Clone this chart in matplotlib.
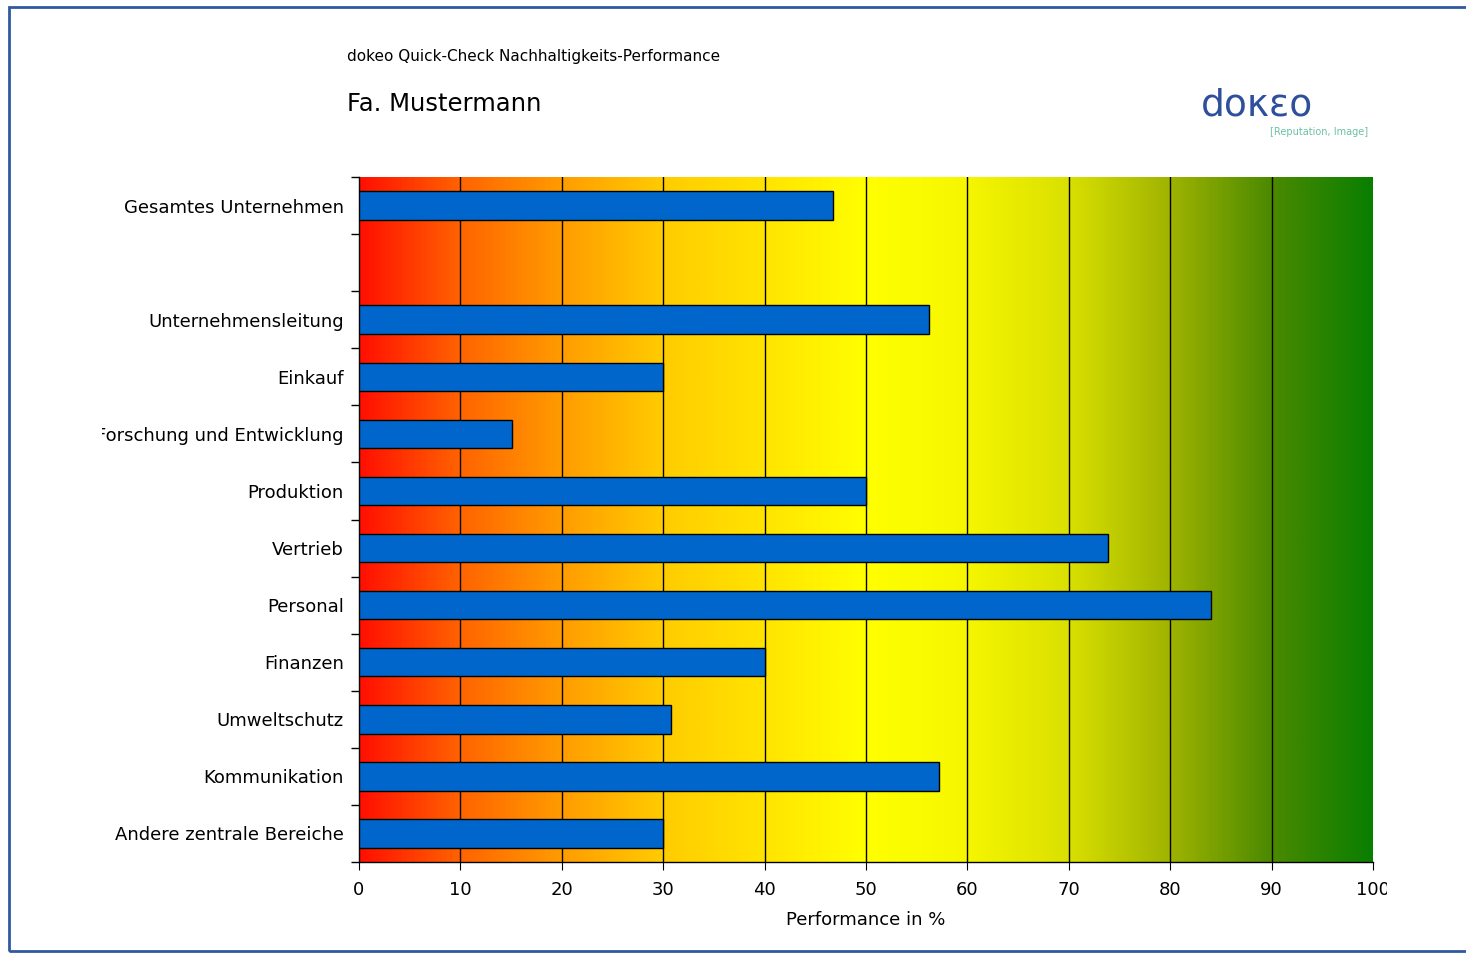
import numpy as np
import matplotlib
matplotlib.use("Agg")
import matplotlib.pyplot as plt
from matplotlib.colors import LinearSegmentedColormap
from matplotlib.patches import Rectangle
from matplotlib.transforms import Bbox

# Daten
kategorien = [
    "Gesamtes Unternehmen",
    "",
    "Unternehmensleitung",
    "Einkauf",
    "Forschung und Entwicklung",
    "Produktion",
    "Vertrieb",
    "Personal",
    "Finanzen",
    "Umweltschutz",
    "Kommunikation",
    "Andere zentrale Bereiche",
]
werte = [46.7, None, 56.2, 30.0, 15.1, 50.0, 73.9, 84.0, 40.0, 30.8, 57.2, 30.0]
x_ticks = [0, 10, 20, 30, 40, 50, 60, 70, 80, 90, 100]

verlauf_pos = [0.0, 0.1, 0.2, 0.3, 0.4, 0.5, 0.6, 0.7, 0.8, 0.9, 1.0]
verlauf_farben = ["#ff1000", "#ff6400", "#ff9c00", "#ffcc00", "#ffe400", "#ffff00",
                  "#f6f600", "#dae000", "#a0b400", "#4c8a00", "#0a7e00"]

W, H = 1466, 955
fig = plt.figure(figsize=(W / 100, H / 100), dpi=100)

# Rahmen
fig.patches.append(Rectangle((9 / W, 1 - 951 / H), 1.1, (951 - 7) / H,
                             transform=fig.transFigure, fill=False,
                             edgecolor="#2f5b9e", linewidth=2))

ax = fig.add_axes([359 / W, 1 - 862 / H, (1373 - 359) / W, (862 - 177) / H])

n = len(kategorien)
cmap = LinearSegmentedColormap.from_list("perf", list(zip(verlauf_pos, verlauf_farben)))
grad = np.linspace(0, 1, 512).reshape(1, -1)
ax.imshow(grad, cmap=cmap, extent=[0, 100, n, 0], aspect="auto", zorder=0,
          interpolation="bilinear")

for x in x_ticks[1:-1]:
    ax.axvline(x, color="black", linewidth=1, zorder=1)

for i, v in enumerate(werte):
    if v is None:
        continue
    ax.barh(i + 0.5, v, height=0.5, color="#0066cc", edgecolor="black",
            linewidth=1, zorder=3)

ax.set_xlim(0, 100)
ax.set_ylim(n, 0)

ax.set_yticks(range(n + 1))
ax.set_yticklabels([])
ax.set_yticks([i + 0.5 for i in range(n)], minor=True)
ax.set_yticklabels(kategorien, minor=True, fontsize=13)
ax.tick_params(axis="y", which="minor", length=0, pad=11)
ax.tick_params(axis="y", which="major", length=6, width=1)
ax.set_xticks(x_ticks)
ax.tick_params(axis="x", length=6, labelsize=13, pad=8)

for s in ["top", "right"]:
    ax.spines[s].set_visible(False)
ax.spines["left"].set_linewidth(1)
ax.spines["bottom"].set_linewidth(1)

ax.set_xlabel("Performance in %", fontsize=13, labelpad=8)

fig.text(347 / W, 1 - 56 / H, "dokeo Quick-Check Nachhaltigkeits-Performance",
         fontsize=11, va="center", ha="left")
fig.text(347 / W, 1 - 104 / H, "Fa. Mustermann", fontsize=17.5, va="center", ha="left")

# Logo
fig.text(1257 / W, 1 - 106 / H, "doκεο", fontsize=27, color="#2d4f9c",
         va="center", ha="center")
fig.text(1368 / W, 1 - 132 / H, "[Reputation, Image]", fontsize=7,
         color="#6cc0a0", va="center", ha="right")

# abgeschnittene Beschriftungen wie im Original
fig.canvas.draw()
clip = Bbox.from_extents(102, 0, 1387, H)
for lbl in ax.get_yticklabels(minor=True) + ax.get_xticklabels():
    lbl.set_clip_on(True)
    lbl.set_clip_box(clip)

fig.savefig("out.png", dpi=100)
